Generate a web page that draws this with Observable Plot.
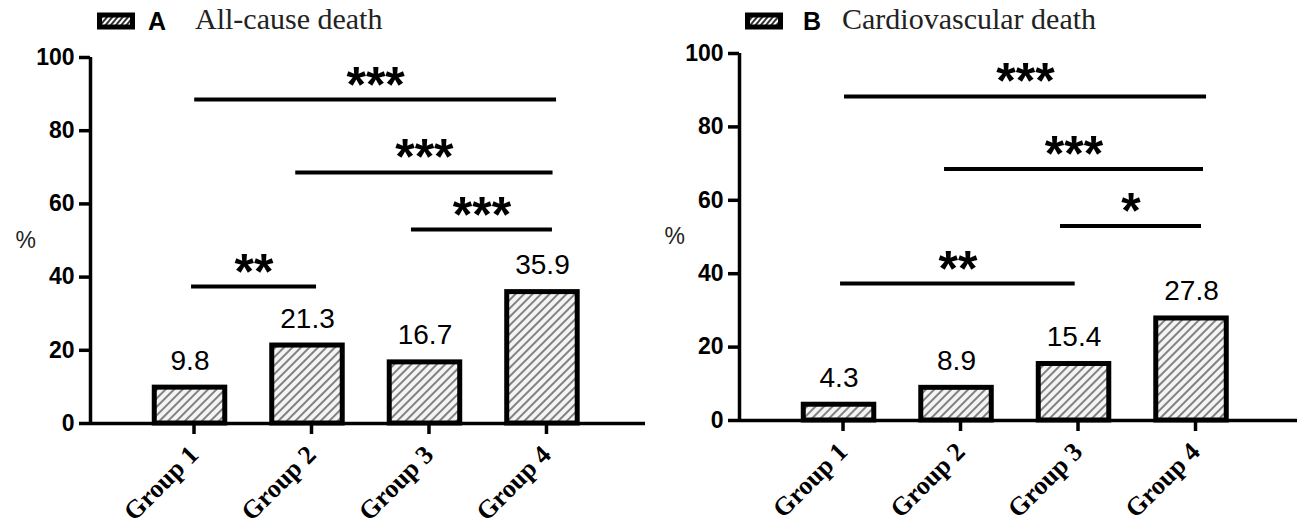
<!DOCTYPE html>
<html><head><meta charset="utf-8">
<script src="https://cdn.jsdelivr.net/npm/d3@7"></script>
<script src="https://cdn.jsdelivr.net/npm/@observablehq/plot@0.6"></script>
<style>
body{margin:0;background:#fff;}
#wrap{position:relative;width:1299px;height:530px;overflow:hidden;background:#fff;}
.panel{position:absolute;top:0;}
.panel svg{display:block;}
</style>
</head><body><div id="wrap"></div>
<script>
// ---- data ----
const groups = ["Group 1", "Group 2", "Group 3", "Group 4"];
const groupIndex = [1, 2, 3, 4];
const panelLetters = ["A", "B"];
const panelTitles = ["All-cause death", "Cardiovascular death"];
const valuesA = [9.8, 21.3, 16.7, 35.9];
const valuesB = [4.3, 8.9, 15.4, 27.8];
const yTicks = [0, 20, 40, 60, 80, 100];
// significance brackets: start / end in group-position units, height in %, label
const sigFromA = [1.04, 1.90, 2.885, 1.013];
const sigToA = [4.12, 4.09, 4.085, 2.077];
const sigYA = [88.5, 68.6, 53.0, 37.4];
const sigLabelA = ["***", "***", "***", "**"];
const sigFromB = [1.047, 1.898, 2.885, 1.013];
const sigToB = [4.128, 4.102, 4.085, 3.01];
const sigYB = [88.3, 68.5, 53.0, 37.3];
const sigLabelB = ["***", "***", "*", "**"];

const SANS = "'Liberation Sans', Arial, sans-serif";
const SERIF = "'Liberation Serif', 'Times New Roman', serif";
const halfBar = 0.3;

function titleSvg(cfg) {
  const svg = d3.create("svg").attr("width", cfg.width).attr("height", 36);
  const pat = svg.append("defs").append("pattern")
    .attr("id", "sw" + cfg.letter).attr("patternUnits", "userSpaceOnUse")
    .attr("width", 4).attr("height", 4).attr("patternTransform", "rotate(40)");
  pat.append("rect").attr("width", 4).attr("height", 4).attr("fill", "#fff");
  pat.append("line").attr("x1", 1).attr("x2", 1).attr("y1", 0).attr("y2", 4).attr("stroke", "#000").attr("stroke-width", 1.6);
  svg.append("rect").attr("x", cfg.sw + 2.5).attr("y", 15).attr("width", 33).attr("height", 12)
    .attr("fill", `url(#sw${cfg.letter})`).attr("stroke", "#000").attr("stroke-width", 5);
  svg.append("text").attr("x", cfg.lx).attr("y", 30).attr("font-family", SANS).attr("font-weight", "bold")
    .attr("font-size", 25).text(cfg.letter);
  svg.append("text").attr("x", cfg.tx).attr("y", 29).attr("font-family", SERIF)
    .attr("font-size", 30).attr("fill", "#222").text(cfg.title);
  return svg.node();
}

function panel(cfg) {
  const bars = groupIndex.map((g, i) => ({g, name: groups[i], value: cfg.values[i]}));
  const sig = cfg.sigFrom.map((f, i) => ({from: f, to: cfg.sigTo[i], y: cfg.sigY[i], label: cfg.sigLabel[i]}));
  const pid = "hatch" + cfg.letter;
  const plot = Plot.plot({
    width: cfg.width, height: 494,
    marginLeft: cfg.ml, marginRight: cfg.mr, marginTop: cfg.mt, marginBottom: cfg.mb,
    x: {type: "linear", domain: cfg.xDomain, axis: null},
    y: {domain: [0, 100], axis: null},
    style: {fontFamily: SANS, background: "transparent", overflow: "visible", color: "#000"},
    marks: [
      Plot.rectY(bars, {x1: d => d.g - halfBar, x2: d => d.g + halfBar, y1: 0, y2: "value",
        fill: `url(#${pid})`, stroke: "#000", strokeWidth: 5}),
      Plot.axisY({ticks: yTicks, tickSize: 11, tickPadding: 5, strokeWidth: 3.5,
        fontSize: 23, fontWeight: "bold", label: null, fill: "#000"}),
      Plot.ruleX([cfg.xDomain[0]], {y1: 0, y2: 100, strokeWidth: 3.5}),
      Plot.axisX({ticks: groupIndex, tickFormat: i => groups[i - 1], tickRotate: -45, tickSize: 11,
        tickPadding: 16, dx: 4, strokeWidth: 3.5, fontFamily: SERIF, fontWeight: "bold", fontSize: 26,
        label: null, fill: "#000"}),
      Plot.ruleY([0], {strokeWidth: 3.5}),
      Plot.text(bars, {x: "g", y: "value", text: d => d.value.toFixed(1), dy: -27, fontSize: 28, fill: "#000"}),
      Plot.ruleY(sig, {x1: "from", x2: "to", y: "y", strokeWidth: 4}),
      Plot.text(sig, {x: d => (d.from + d.to) / 2, y: "y", text: "label", dy: -14,
        fontSize: 50, fontWeight: "bold", fill: "#000"}),
      Plot.text(["%"], {frameAnchor: "left", dx: -75, fontSize: 23, fill: "#222"})
    ]
  });
  const defs = d3.select(plot).insert("defs", ":first-child");
  const p = defs.append("pattern").attr("id", pid).attr("patternUnits", "userSpaceOnUse")
    .attr("width", 6).attr("height", 6).attr("patternTransform", "rotate(45)");
  p.append("rect").attr("width", 6).attr("height", 6).attr("fill", "#f4f4f4");
  p.append("line").attr("x1", 1).attr("x2", 1).attr("y1", 0).attr("y2", 6)
    .attr("stroke", "#444").attr("stroke-width", 1.3);

  const div = document.createElement("div");
  div.className = "panel";
  div.style.left = cfg.left + "px";
  div.appendChild(titleSvg(cfg));
  div.appendChild(plot);
  document.getElementById("wrap").appendChild(div);
}

panel({left: 0, width: 650, letter: panelLetters[0], title: panelTitles[0], values: valuesA,
  sigFrom: sigFromA, sigTo: sigToA, sigY: sigYA, sigLabel: sigLabelA,
  ml: 90, mr: 5, mt: 21, mb: 107, xDomain: [0.153, 4.877], sw: 97, lx: 148, tx: 195});
panel({left: 650, width: 649, letter: panelLetters[1], title: panelTitles[1], values: valuesB,
  sigFrom: sigFromB, sigTo: sigToB, sigY: sigYB, sigLabel: sigLabelB,
  ml: 89, mr: 2, mt: 17, mb: 110, xDomain: [0.153, 4.902], sw: 95, lx: 153, tx: 192});
</script>
</body></html>
